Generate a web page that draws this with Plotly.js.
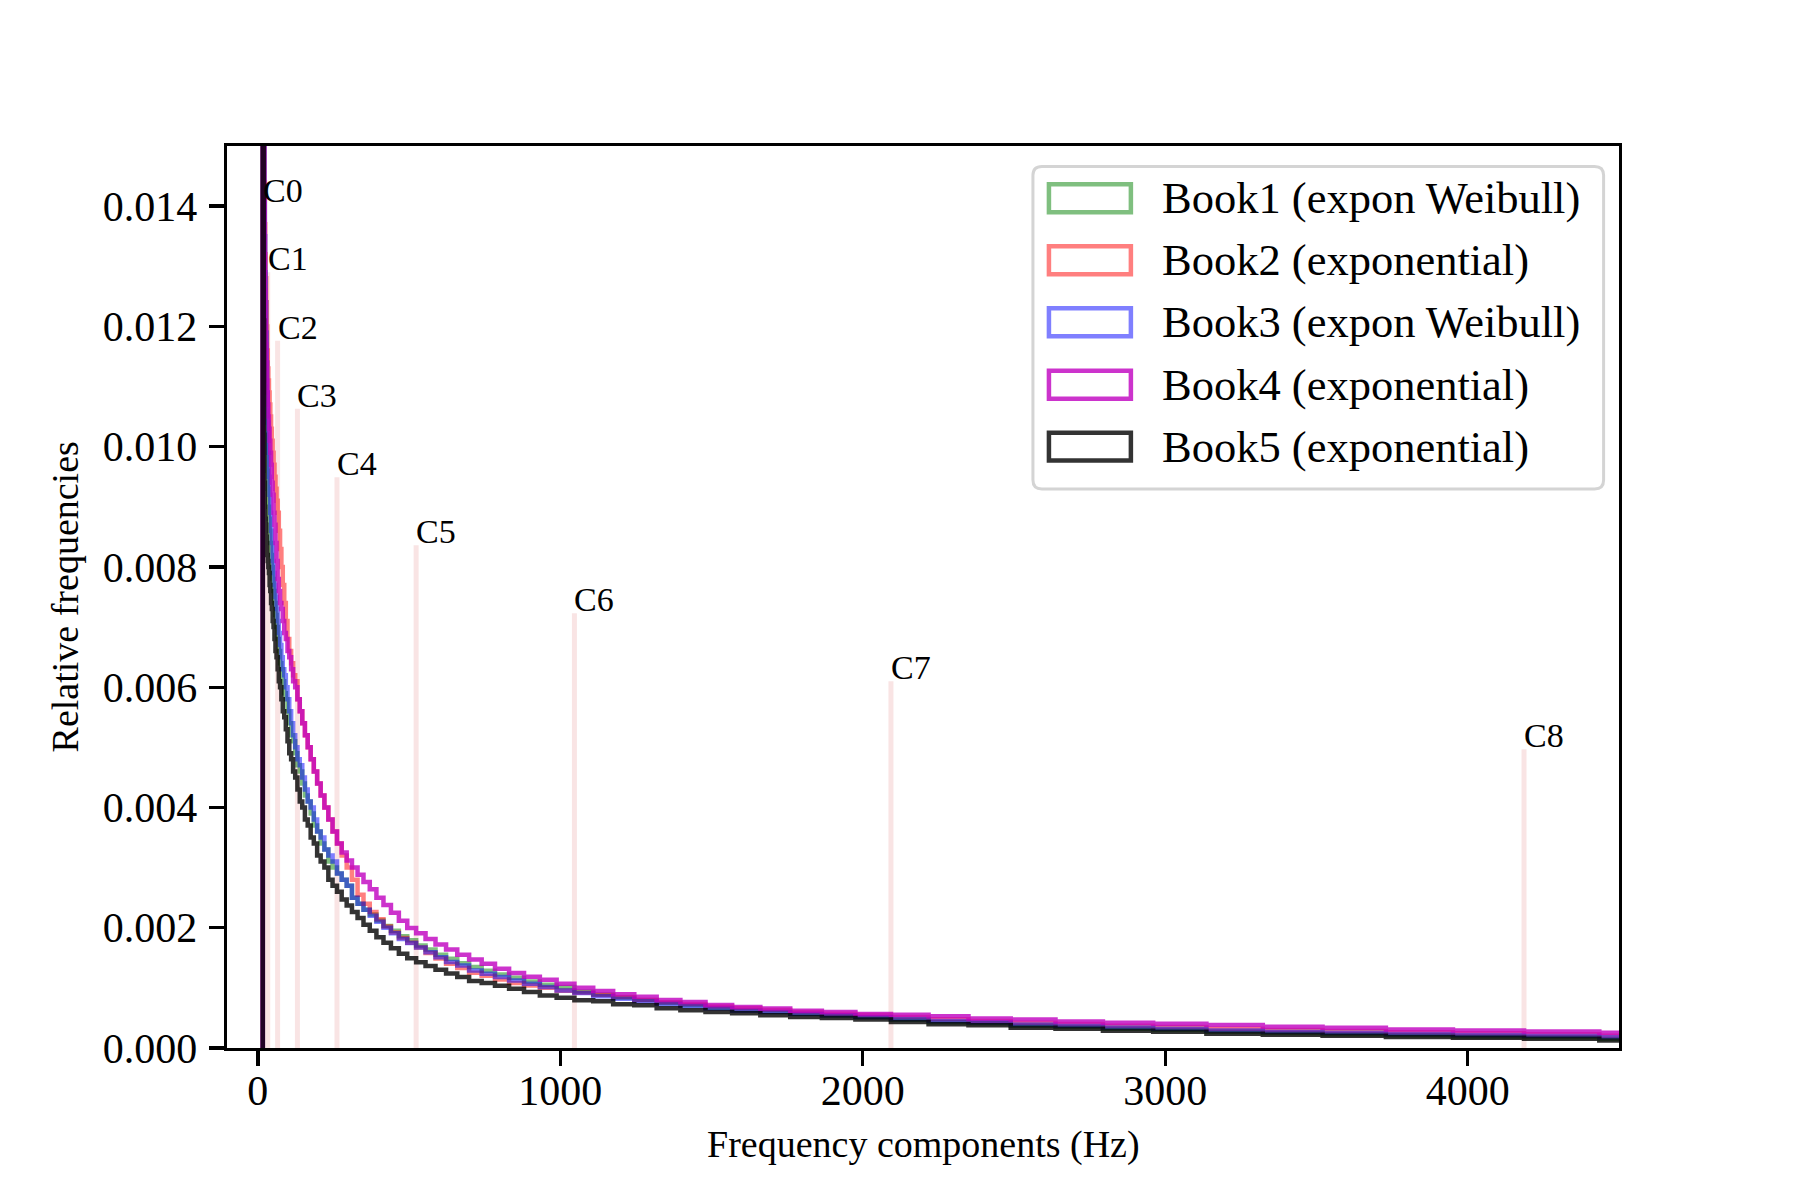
<!DOCTYPE html>
<html>
<head>
<meta charset="utf-8">
<script src="https://cdn.plot.ly/plotly-3.0.1.min.js"></script>
<style>html,body{margin:0;padding:0;background:#fff;}#chart{width:1800px;height:1200px;}</style>
</head>
<body>
<div id="chart"></div>
<script>
// Semitone bin edges (Hz), C0 .. D8
const binEdges = [
  16.35, 17.32, 18.35, 19.45, 20.60, 21.83, 23.12, 24.50, 25.96, 27.50, 29.14, 30.87,
  32.70, 34.65, 36.71, 38.89, 41.20, 43.65, 46.25, 49.00, 51.91, 55.00, 58.27, 61.74,
  65.41, 69.30, 73.42, 77.78, 82.41, 87.31, 92.50, 98.00, 103.83, 110.00, 116.54, 123.47,
  130.81, 138.59, 146.83, 155.56, 164.81, 174.61, 185.00, 196.00, 207.65, 220.00, 233.08, 246.94,
  261.63, 277.18, 293.66, 311.13, 329.63, 349.23, 369.99, 392.00, 415.30, 440.00, 466.16, 493.88,
  523.25, 554.37, 587.33, 622.25, 659.26, 698.46, 739.99, 783.99, 830.61, 880.00, 932.33, 987.77,
  1046.50, 1108.73, 1174.66, 1244.51, 1318.51, 1396.91, 1479.98, 1567.98, 1661.22, 1760.00, 1864.66, 1975.53,
  2093.00, 2217.46, 2349.32, 2489.02, 2637.02, 2793.83, 2959.96, 3135.96, 3322.44, 3520.00, 3729.31, 3951.07,
  4186.01, 4434.92, 4698.64
];

const book1 = [ // green, expon Weibull
  0.031, 0.024, 0.019, 0.0155, 0.0135, 0.0124, 0.0116, 0.0110, 0.0106, 0.0102, 0.0099, 0.0096,
  0.0093, 0.0090, 0.0088, 0.0086, 0.0084, 0.0082, 0.0080, 0.0078, 0.0076, 0.0074, 0.0072, 0.0070,
  0.0068, 0.0066, 0.0064, 0.0063, 0.0061, 0.0059, 0.0058, 0.0056, 0.0054, 0.0052, 0.0051, 0.0049,
  0.0047, 0.0046, 0.0044, 0.0042, 0.0041, 0.0039, 0.0037, 0.0036, 0.0034, 0.0033, 0.0031, 0.0030,
  0.0029, 0.0028, 0.0027, 0.0025, 0.0024, 0.0023, 0.00222, 0.00212, 0.00203, 0.00195, 0.001859, 0.001792,
  0.001704, 0.001638, 0.001549, 0.001483, 0.001411, 0.001345, 0.001284, 0.001223, 0.001168, 0.001107, 0.001052, 0.001014,
  0.00094, 0.00089, 0.00084, 0.00080, 0.00075, 0.00071, 0.00067, 0.00063, 0.00060, 0.00057, 0.00054, 0.00051,
  0.00047, 0.00043, 0.00041, 0.00037, 0.00035, 0.00032, 0.00030, 0.00027, 0.00025, 0.00023, 0.00021, 0.00019,
  0.00018, 0.00015
];
const book2 = [ // red, exponential
  0.030, 0.024, 0.020, 0.0170, 0.0154, 0.0144, 0.0137, 0.0132, 0.0128, 0.0124, 0.0120, 0.0116,
  0.0113, 0.0111, 0.0109, 0.0107, 0.0105, 0.0103, 0.0101, 0.0099, 0.0097, 0.0095, 0.0093, 0.0091,
  0.0089, 0.0086, 0.0083, 0.0080, 0.0077, 0.0074, 0.0071, 0.0068, 0.0066, 0.0064, 0.0062, 0.0061,
  0.0058, 0.0056, 0.0054, 0.0052, 0.0050, 0.0048, 0.0046, 0.0044, 0.0042, 0.0040, 0.0038, 0.0036,
  0.0034, 0.0032, 0.0030, 0.0028, 0.00255, 0.0024, 0.00226, 0.00214, 0.00202, 0.00192, 0.00183, 0.00175,
  0.00167, 0.00158, 0.00149, 0.00140, 0.00133, 0.00125, 0.00120, 0.00114, 0.00108, 0.00104, 0.00100, 0.00095,
  0.00092, 0.00088, 0.00085, 0.00080, 0.00076, 0.00073, 0.00069, 0.00066, 0.00063, 0.00060, 0.00057, 0.00055,
  0.000515, 0.00048, 0.00045, 0.00042, 0.00040, 0.00037, 0.00035, 0.000322, 0.00030, 0.000282, 0.00026, 0.000245,
  0.00023, 0.000205
];
const book3 = [ // blue, expon Weibull
  0.032, 0.026, 0.021, 0.0175, 0.0155, 0.0143, 0.0135, 0.0129, 0.0124, 0.0119, 0.0114, 0.0109,
  0.0104, 0.0099, 0.0095, 0.0092, 0.0089, 0.0086, 0.0084, 0.0081, 0.0079, 0.0077, 0.0075, 0.0073,
  0.0071, 0.0069, 0.0067, 0.0065, 0.0063, 0.0062, 0.0060, 0.0058, 0.0056, 0.0054, 0.0052, 0.0050,
  0.0048, 0.0047, 0.0045, 0.0043, 0.0041, 0.0040, 0.0038, 0.0036, 0.0035, 0.0033, 0.0032, 0.0031,
  0.0029, 0.0028, 0.0027, 0.0025, 0.0024, 0.0023, 0.0022, 0.0021, 0.0020, 0.00191, 0.001814, 0.001748,
  0.001671, 0.001594, 0.001511, 0.00143, 0.001373, 0.00129, 0.001234, 0.001179, 0.001124, 0.001069, 0.001014, 0.000958,
  0.000914, 0.000859, 0.00082, 0.000776, 0.000732, 0.000699, 0.000655, 0.000621, 0.000599, 0.000566, 0.000544, 0.000516,
  0.000483, 0.000448, 0.000428, 0.000392, 0.000372, 0.00034, 0.000322, 0.00029, 0.00027, 0.000254, 0.000232, 0.000218,
  0.000202, 0.000178
];
const book4 = [ // magenta, exponential
  0.030, 0.024, 0.019, 0.0160, 0.0142, 0.0132, 0.0126, 0.0121, 0.0117, 0.0114, 0.0111, 0.0109,
  0.0107, 0.0105, 0.0103, 0.0101, 0.0099, 0.0097, 0.0094, 0.0092, 0.0089, 0.0087, 0.0084, 0.0081,
  0.0078, 0.0076, 0.0074, 0.0073, 0.0071, 0.0069, 0.0068, 0.0066, 0.0065, 0.0063, 0.0061, 0.0060,
  0.0058, 0.0056, 0.0054, 0.0052, 0.0050, 0.0048, 0.0046, 0.0044, 0.0042, 0.0040, 0.0038, 0.0036,
  0.0034, 0.00325, 0.00312, 0.00300, 0.00288, 0.00276, 0.00264, 0.00250, 0.00238, 0.00225, 0.002118, 0.001997,
  0.001908, 0.001814, 0.00172, 0.001638, 0.001549, 0.001472, 0.00140, 0.001317, 0.001246, 0.001185, 0.001135, 0.001069,
  0.001002, 0.000947, 0.000892, 0.000853, 0.000798, 0.000765, 0.000715, 0.000682, 0.000655, 0.000621, 0.000599, 0.000566,
  0.000552, 0.000527, 0.000489, 0.000472, 0.000439, 0.00042, 0.000403, 0.000381, 0.000353, 0.000337, 0.000309, 0.000293,
  0.000276, 0.000254
];
const book5 = [ // black, exponential
  0.030, 0.021, 0.0155, 0.0121, 0.0102, 0.0094, 0.0090, 0.0088, 0.0087, 0.0085, 0.0084, 0.0082,
  0.0081, 0.0080, 0.0079, 0.0077, 0.0076, 0.0074, 0.0073, 0.0071, 0.0070, 0.0068, 0.0066, 0.0065,
  0.0063, 0.0061, 0.0060, 0.0058, 0.0056, 0.0055, 0.0053, 0.0051, 0.0049, 0.0048, 0.0046, 0.0045,
  0.0043, 0.0041, 0.0040, 0.0038, 0.0037, 0.0035, 0.0034, 0.0032, 0.0031, 0.0030, 0.0028, 0.0027,
  0.0026, 0.00247, 0.00237, 0.00226, 0.00216, 0.00205, 0.00195, 0.00184, 0.00175, 0.00166, 0.001566, 0.001494,
  0.001428, 0.001362, 0.001301, 0.00124, 0.001179, 0.001113, 0.00108, 0.001036, 0.000986, 0.000931, 0.000875, 0.000837,
  0.000793, 0.000776, 0.000726, 0.00071, 0.00066, 0.000627, 0.000599, 0.000577, 0.000544, 0.000516, 0.00050, 0.000472,
  0.000434, 0.000395, 0.000378, 0.000337, 0.00032, 0.000287, 0.00027, 0.000237, 0.00022, 0.000204, 0.000182, 0.00017,
  0.000154, 0.000126
];

const seriesNames = ['Book1 (expon Weibull)', 'Book2 (exponential)', 'Book3 (expon Weibull)', 'Book4 (exponential)', 'Book5 (exponential)'];
const seriesValues = [book1, book2, book3, book4, book5];
const seriesColors = ['rgba(0,128,0,0.5)', 'rgba(255,0,0,0.5)', 'rgba(0,0,255,0.5)', 'rgba(191,0,191,0.8)', 'rgba(0,0,0,0.8)'];

// C notes markers
const cNotes = ['C0', 'C1', 'C2', 'C3', 'C4', 'C5', 'C6', 'C7', 'C8'];
const cFreqs = [16.35, 32.70, 65.41, 130.81, 261.63, 523.25, 1046.50, 2093.00, 4186.01];
const cHeights = [0.01403, 0.0129, 0.01176, 0.01063, 0.00949, 0.00836, 0.00723, 0.0061, 0.00497];

const xTicks = [0, 1000, 2000, 3000, 4000];
const yTicks = [0, 0.002, 0.004, 0.006, 0.008, 0.010, 0.012, 0.014];

const FONT = 'Liberation Serif, Times New Roman, serif';

function stepTrace(edges, vals, name, color) {
  const x = [edges[0]], y = [0];
  for (let i = 0; i < vals.length; i++) { x.push(edges[i]); y.push(vals[i]); }
  x.push(edges[vals.length]); y.push(0);
  return {type: 'scatter', mode: 'lines', x: x, y: y, name: name,
          line: {shape: 'hv', color: color, width: 4.5}, showlegend: false, hoverinfo: 'skip'};
}

const traces = [];
// pink vertical lines
const lx = [], ly = [];
cFreqs.forEach((f, i) => { lx.push(f, f, null); ly.push(0, cHeights[i], null); });
traces.push({type: 'scatter', mode: 'lines', x: lx, y: ly, line: {color: 'rgb(249,228,228)', width: 5},
             showlegend: false, hoverinfo: 'skip'});
seriesValues.forEach((v, i) => traces.push(stepTrace(binEdges, v, seriesNames[i], seriesColors[i])));

// plot area geometry (px) for paper conversions
const L = 226.6, R = 1619.4, T = 145.6, B = 1048.4;
const PW = R - L, PH = B - T;
const px = v => (v - L) / PW;
const py = v => (B - v) / PH;

const annotations = [];
cNotes.forEach((n, i) => annotations.push({
  x: cFreqs[i], y: cHeights[i], xref: 'x', yref: 'y', text: n, showarrow: false,
  xanchor: 'left', yanchor: 'bottom', yshift: -7, xshift: -2,
  font: {family: FONT, size: 34, color: '#000'}
}));
annotations.push({x: 0.5, y: 0, xref: 'paper', yref: 'paper', yshift: -(1145 - B), xanchor: 'center', yanchor: 'middle',
  text: 'Frequency components (Hz)', showarrow: false, font: {family: FONT, size: 38, color: '#000'}});
annotations.push({x: 0, y: 0.5, xref: 'paper', yref: 'paper', xshift: 65 - L, xanchor: 'center', yanchor: 'middle',
  textangle: -90, text: 'Relative frequencies', showarrow: false, font: {family: FONT, size: 38, color: '#000'}});

// legend
const shapes = [];
const lgX0 = px(1033), lgX1 = px(1604), lgY1 = py(166), lgY0 = py(489);
const rx = 9 / PW, ry = 9 / PH;
shapes.push({type: 'path', xref: 'paper', yref: 'paper', layer: 'above',
  path: `M ${lgX0 + rx},${lgY1} L ${lgX1 - rx},${lgY1} Q ${lgX1},${lgY1} ${lgX1},${lgY1 - ry} L ${lgX1},${lgY0 + ry} Q ${lgX1},${lgY0} ${lgX1 - rx},${lgY0} L ${lgX0 + rx},${lgY0} Q ${lgX0},${lgY0} ${lgX0},${lgY0 + ry} L ${lgX0},${lgY1 - ry} Q ${lgX0},${lgY1} ${lgX0 + rx},${lgY1} Z`,
  fillcolor: 'rgba(255,255,255,0.8)', line: {color: 'rgb(212,212,212)', width: 3}});
const rowY = [198, 260, 322, 384.5, 446.5];
seriesNames.forEach((n, i) => {
  shapes.push({type: 'rect', xref: 'paper', yref: 'paper', layer: 'above',
    x0: px(1049), x1: px(1131), y0: py(rowY[i] + 14), y1: py(rowY[i] - 14),
    line: {color: seriesColors[i], width: 4.5}, fillcolor: 'rgba(0,0,0,0)'});
  annotations.push({x: px(1160), y: py(rowY[i]), xref: 'paper', yref: 'paper', xanchor: 'left', yanchor: 'middle',
    text: n, showarrow: false, font: {family: FONT, size: 44.5, color: '#000'}});
});

const axisCommon = {
  ticks: 'outside', ticklen: 15, tickwidth: 3.3, tickcolor: '#000',
  showline: true, linewidth: 3.3, linecolor: '#000', mirror: true,
  showgrid: false, zeroline: false,
  tickfont: {family: FONT, size: 42, color: '#000'}
};

const layout = {
  width: 1800, height: 1200,
  margin: {l: L, r: 1800 - R, t: T, b: 1200 - B, pad: 0},
  paper_bgcolor: '#fff', plot_bgcolor: '#fff',
  showlegend: false,
  xaxis: Object.assign({}, axisCommon, {range: [-102, 4500], tickmode: 'array', tickvals: xTicks, ticktext: xTicks.map(String), ticklabelstandoff: -12}),
  yaxis: Object.assign({}, axisCommon, {range: [0, 0.015], tickmode: 'array', tickvals: yTicks, ticktext: yTicks.map(v => v.toFixed(3)), ticklabelstandoff: 3}),
  annotations: annotations,
  shapes: shapes
};

Plotly.newPlot('chart', traces, layout, {staticPlot: true, displayModeBar: false});
</script>
</body>
</html>
